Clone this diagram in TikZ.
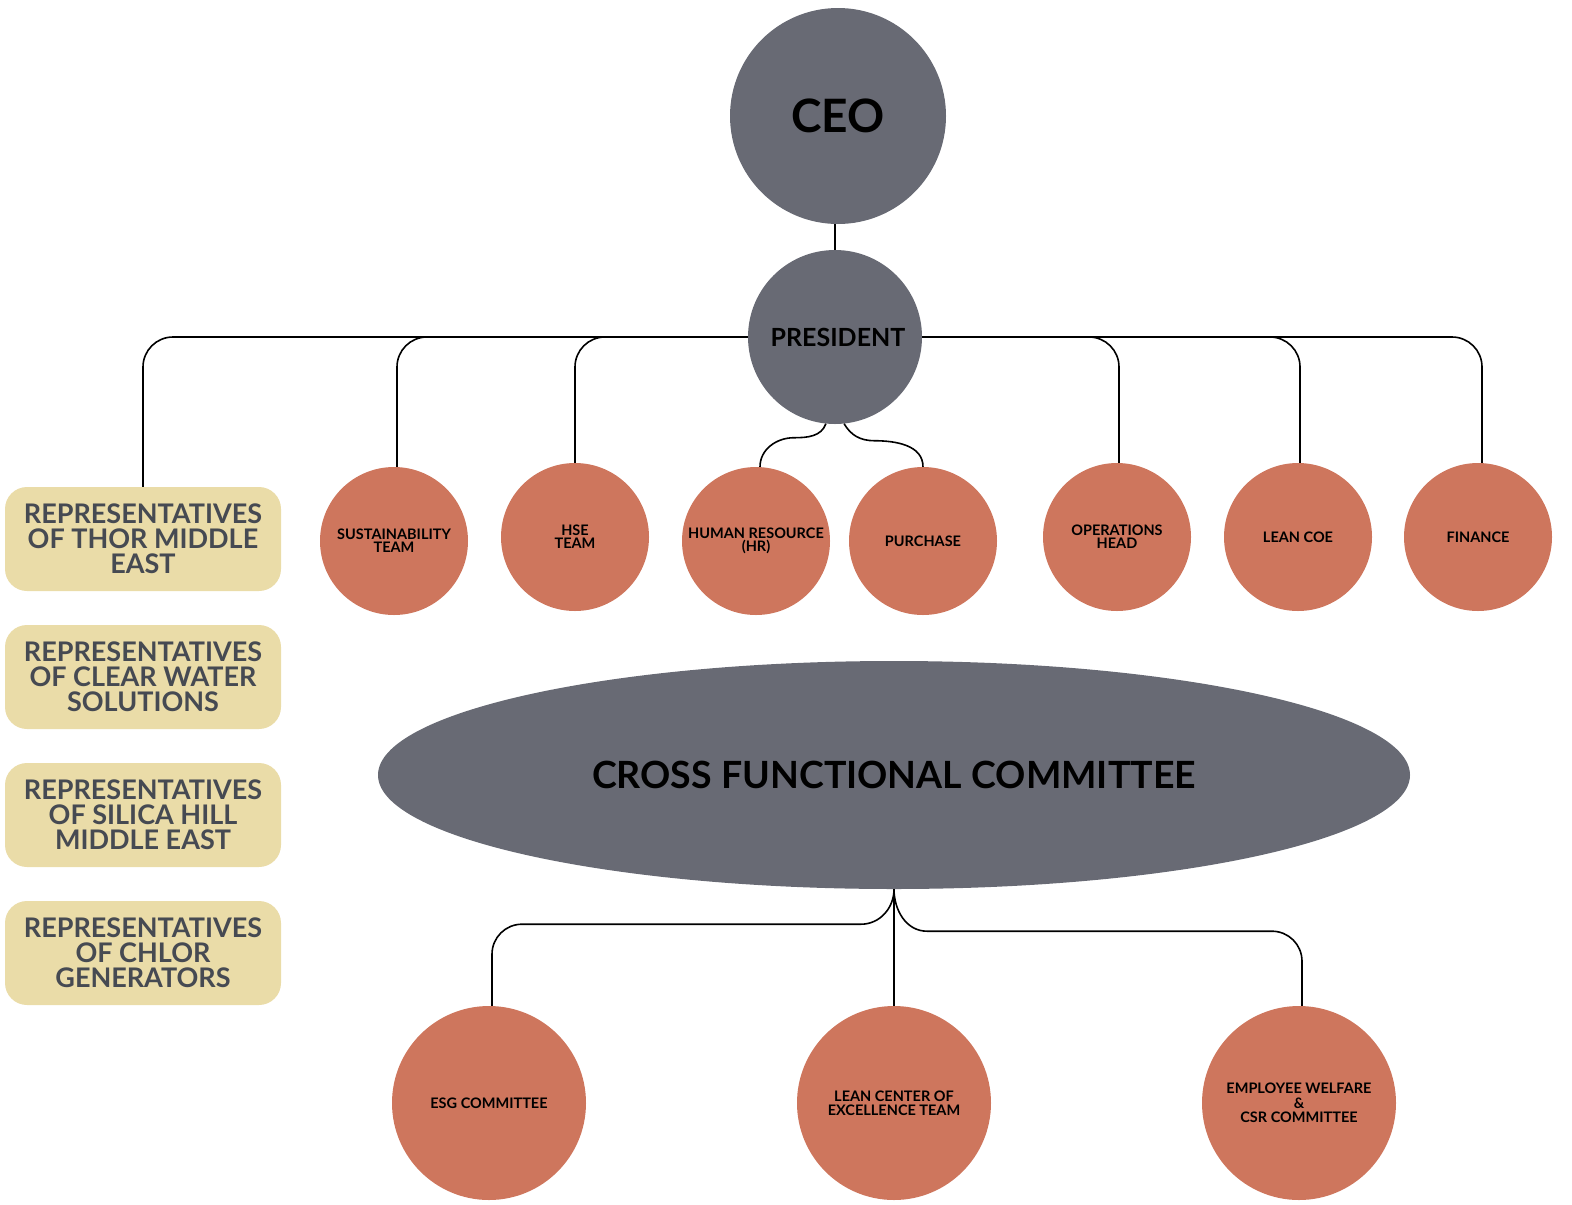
\documentclass[tikz,border=0pt]{standalone}
\usepackage{fontspec}
\setmainfont{Lato}
\usetikzlibrary{shapes.geometric}
\definecolor{slate}{HTML}{686A74}
\definecolor{terra}{HTML}{CE765D}
\definecolor{sand}{HTML}{EADCA8}
\definecolor{boxtext}{HTML}{464A52}
\tikzset{
  bignode/.style={circle, fill=slate, inner sep=0pt, font=\bfseries, text=black, align=center},
  dept/.style={circle, fill=terra, minimum size=148pt, inner sep=0pt, font=\bfseries\fontsize{14.5}{13}\selectfont, text=black, align=center},
  comm/.style={circle, fill=terra, minimum size=194pt, inner sep=0pt, font=\bfseries\fontsize{14.5}{14.5}\selectfont, text=black, align=center},
  repbox/.style={rectangle, rounded corners=22pt, fill=sand, minimum width=276pt, minimum height=104pt, inner sep=0pt, font=\bfseries\fontsize{27}{25}\selectfont, text=boxtext, align=center},
  conn/.style={line width=1.6pt, black},
}
\begin{document}
\begin{tikzpicture}[x=1pt,y=-1pt]
\useasboundingbox (0,0) rectangle (1572,1205);
% top
\node[bignode, minimum size=216pt, font=\bfseries\fontsize{46}{46}\selectfont] (ceo) at (838,116) {CEO};
\node[bignode, minimum size=174pt] (pres) at (835,337) {};
\node[font=\bfseries\fontsize{25}{25}\selectfont, text=black] (prestext) at (838,337) {PRESIDENT};
% departments
\node[dept] (sust) at (394,541) {SUSTAINABILITY\\TEAM};
\node[dept] (hse) at (575,537) {HSE\\TEAM};
\node[dept] (hr) at (756,541) {HUMAN RESOURCE\\(HR)};
\node[dept] (purch) at (923,541) {PURCHASE};
\node[dept] (ops) at (1117,537) {OPERATIONS\\HEAD};
\node[dept] (lean) at (1298,537) {LEAN COE};
\node[dept] (fin) at (1478,537) {FINANCE};
% representative boxes
\node[repbox] (rep1) at (143,539) {REPRESENTATIVES\\OF THOR MIDDLE\\EAST};
\node[repbox] (rep2) at (143,677) {REPRESENTATIVES\\OF CLEAR WATER\\SOLUTIONS};
\node[repbox] (rep3) at (143,815) {REPRESENTATIVES\\OF SILICA HILL\\MIDDLE EAST};
\node[repbox] (rep4) at (143,953) {REPRESENTATIVES\\OF CHLOR\\GENERATORS};
% committee
\node[ellipse, fill=slate, minimum width=1032pt, minimum height=228pt, inner sep=0pt, font=\bfseries\fontsize{37.5}{37.5}\selectfont, text=black] (cfc) at (894,775) {CROSS FUNCTIONAL COMMITTEE};
\node[comm] (esg) at (489,1103) {ESG COMMITTEE};
\node[comm] (lcx) at (894,1103) {LEAN CENTER OF\\EXCELLENCE TEAM};
\node[comm] (emp) at (1299,1103) {EMPLOYEE WELFARE\\\&\\CSR COMMITTEE};
% connectors
\draw[conn] (pres.north) -- (pres.north |- ceo.south);
\draw[conn, rounded corners=30pt] (pres.west) -| (rep1.north);
\draw[conn, rounded corners=30pt] (pres.west) -| ([xshift=3pt]sust.north);
\draw[conn, rounded corners=30pt] (pres.west) -| (hse.north);
\draw[conn, rounded corners=30pt] (pres.east) -| ([xshift=2pt]ops.north);
\draw[conn, rounded corners=30pt] (pres.east) -| ([xshift=2pt]lean.north);
\draw[conn, rounded corners=30pt] (pres.east) -| ([xshift=4pt]fin.north);
\draw[conn] (pres.264) to[out=250,in=0] ++(-32,14) to[out=180,in=90] ([xshift=4pt]hr.north);
\draw[conn] (pres.276) to[out=-60,in=180] ++(30,17) to[out=0,in=90] (purch.north);
\draw[conn] (cfc.south) -- (lcx.north);
\draw[conn] (cfc.south) to[out=-90,in=0] ++(-33,35) [rounded corners=30pt] -| ([xshift=3pt]esg.north);
\draw[conn] (cfc.south) to[out=-90,in=180] ++(33,42) [rounded corners=30pt] -| ([xshift=3pt]emp.north);
\end{tikzpicture}
\end{document}
